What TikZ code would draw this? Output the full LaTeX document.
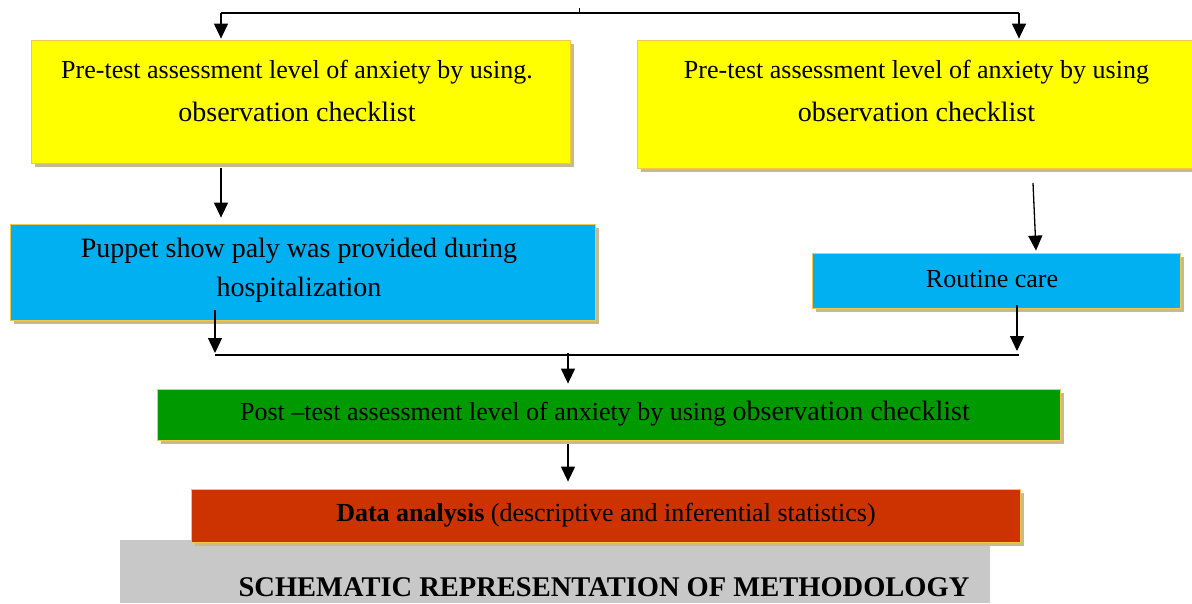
\documentclass[tikz,border=0pt]{standalone}
\usepackage{fontspec}
\setmainfont{Liberation Serif}
\usetikzlibrary{arrows.meta,shadows}
\definecolor{ylw}{HTML}{FFFF00}
\definecolor{cyanb}{HTML}{00B0F0}
\definecolor{grn}{HTML}{009900}
\definecolor{redb}{HTML}{CC3300}
\definecolor{shd}{HTML}{C8B98F}
\definecolor{edge}{HTML}{F2C84B}
\definecolor{gry}{HTML}{C8C8C8}
\newcommand{\bigln}{\fontsize{28}{43}\selectfont}
\begin{document}
\begin{tikzpicture}[x=1pt,y=-1pt,
  box/.style={draw=edge, line width=0.8pt, inner sep=0pt,
    drop shadow={shadow xshift=4pt, shadow yshift=-4pt, fill=shd, opacity=1}},
  txt/.style={inner sep=0pt, align=center, font=\fontsize{26}{43}\selectfont},
  arr/.style={-{Triangle[length=15pt,width=14pt]}, line width=1.3pt},
  ln/.style={line width=1.3pt}]
\useasboundingbox (0,0) rectangle (1192,603);
\fill[white] (0,0) rectangle (1192,603);
% boxes
\node[box, fill=ylw, minimum width=539pt, minimum height=123pt] (pre1) at (300.5,101.5) {};
\node[box, fill=ylw, minimum width=559pt, minimum height=128pt] (pre2) at (916.5,104) {};
\node[box, fill=cyanb, minimum width=585pt, minimum height=96pt] (pup) at (302.5,272) {};
\node[box, fill=cyanb, minimum width=368pt, minimum height=55pt] (rout) at (996,280.5) {};
\node[box, fill=grn, minimum width=903pt, minimum height=51pt] (post) at (608.5,414.5) {};
\fill[gry] (120,540) rectangle (990,603);
\node[box, fill=redb, minimum width=829pt, minimum height=53pt] (data) at (605.5,515.5) {};
% texts
\node[txt] (pre1t) at (297,91) {Pre-test assessment level of anxiety by using.\\{\bigln observation checklist}};
\node[txt] (pre2t) at (916.5,91) {Pre-test assessment level of anxiety by using\\{\bigln observation checklist}};
\node[txt, font=\fontsize{28}{39}\selectfont] (pupt) at (299,270) {Puppet show paly was provided during\\hospitalization};
\node[txt] (routt) at (992,279) {Routine care};
\node[txt] (postt) at (605,414) {Post –test assessment level of anxiety by using {\bigln observation checklist}};
\node[txt] (datat) at (606,515) {\textbf{Data analysis} (descriptive and inferential statistics)};
\node[txt, font=\fontsize{28.5}{34}\selectfont\bfseries] (title) at (604,587) {SCHEMATIC REPRESENTATION OF METHODOLOGY};
% connectors
\coordinate (t1) at (221,13);
\coordinate (t2) at (1019,13);
\coordinate (tk) at (579,8);
\draw[line width=1pt] (tk) -- (tk |- t1);
\draw[ln] (t1) -- (t2);
\draw[arr] (t1) -- ([yshift=1pt]t1 |- pre1.north);
\draw[arr] (t2) -- ([yshift=1pt]t2 |- pre2.north);
\coordinate (a1) at (221,168);
\draw[arr] (a1) -- ([yshift=6pt]a1 |- pup.north);
\coordinate (b1) at (1033,183);
\coordinate (b2) at ([xshift=3pt,yshift=2pt]b1 |- rout.north);
\draw[arr] (b1) -- (b2);
\coordinate (m1) at (215,355);
\coordinate (m2) at (1019,355);
\coordinate (c1) at (215,310);
\coordinate (d1) at (1017,305);
\draw[ln] (m1) -- (m2);
\draw[arr] (c1) -- ([yshift=2pt]m1);
\draw[arr] (d1) -- ([yshift=4pt]d1 |- m1);
\coordinate (e1) at (568,353);
\draw[arr] (e1) -- ([yshift=5pt]e1 |- post.north);
\coordinate (f1) at (568,444);
\draw[arr] (f1) -- ([yshift=7pt]f1 |- data.north);
\end{tikzpicture}
\end{document}
